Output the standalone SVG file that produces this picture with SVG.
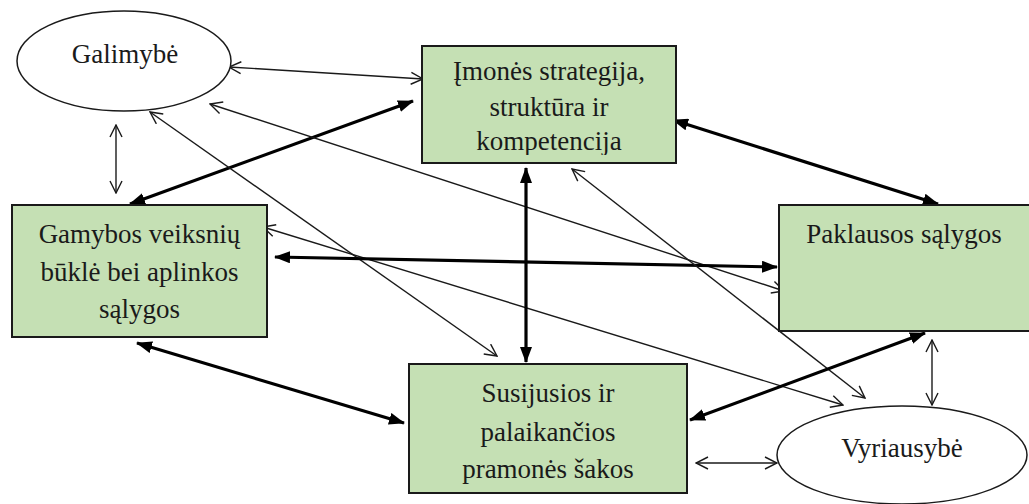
<svg xmlns="http://www.w3.org/2000/svg" width="1029" height="504" viewBox="0 0 1029 504">
<style>
.box{fill:#c5e0b4;stroke:#1a1a1a;stroke-width:2}
.ell{fill:#ffffff;stroke:#1a1a1a;stroke-width:1.5}
.lbl{font-family:"Liberation Serif","Times New Roman",serif;font-size:27px;fill:#1a1a1a;text-anchor:middle}
.thin{stroke:#1a1a1a;stroke-width:1.4;fill:none;marker-start:url(#open);marker-end:url(#open)}
.thick{stroke:#000;stroke-width:3.2;fill:none;marker-start:url(#solid);marker-end:url(#solid)}
</style>
<defs>
<marker id="open" markerUnits="userSpaceOnUse" viewBox="0 0 14 14" markerWidth="14" markerHeight="14" refX="13" refY="7" orient="auto-start-reverse">
<path d="M1,1 L13,7 L1,13" fill="none" stroke="#1a1a1a" stroke-width="1.4"/>
</marker>
<marker id="solid" markerUnits="userSpaceOnUse" viewBox="0 0 16 12" markerWidth="16" markerHeight="12" refX="15" refY="6" orient="auto-start-reverse">
<path d="M0,0 L16,6 L0,12 z" fill="#000"/>
</marker>
<clipPath id="clipA"><rect x="422" y="46" width="254" height="109"/></clipPath>
<clipPath id="clipB"><rect x="409" y="364" width="278" height="123"/></clipPath>
</defs>

<g id="connectors">
<line class="thin" x1="229" y1="67" x2="423" y2="79"/>
<line class="thin" x1="116" y1="125" x2="116" y2="193"/>
<line class="thick" x1="130" y1="204" x2="413" y2="101"/>
<line class="thin" x1="150" y1="112" x2="497" y2="356"/>
<line class="thin" x1="210" y1="104" x2="784" y2="291"/>
<line class="thin" x1="263" y1="227" x2="843" y2="405"/>
<line class="thick" x1="275" y1="257" x2="777" y2="267"/>
<line class="thick" x1="526" y1="168" x2="526" y2="362"/>
<line class="thin" x1="572" y1="169" x2="865" y2="398"/>
<line class="thick" x1="673" y1="120" x2="938" y2="204"/>
<line class="thick" x1="137" y1="343" x2="404" y2="423"/>
<line class="thick" x1="690" y1="420" x2="925" y2="333"/>
<line class="thin" x1="932" y1="340" x2="932" y2="405"/>
<line class="thin" x1="696" y1="463" x2="777" y2="463"/>
</g>

<g id="galimybe">
<ellipse class="ell" cx="124" cy="61" rx="107" ry="50"/>
<text class="lbl" x="125" y="63">Galimybė</text>
</g>

<g id="imones">
<rect class="box" x="422" y="46" width="254" height="117"/>
<g clip-path="url(#clipA)">
<text class="lbl" x="549" y="80">Įmonės strategija,</text>
<text class="lbl" x="549" y="116">struktūra ir</text>
<text class="lbl" x="549" y="150">kompetencija</text>
</g>
</g>

<g id="gamybos">
<rect class="box" x="12" y="205" width="255" height="132"/>
<text class="lbl" x="139.5" y="243">Gamybos veiksnių</text>
<text class="lbl" x="139.5" y="281">būklė bei aplinkos</text>
<text class="lbl" x="139.5" y="318">sąlygos</text>
</g>

<g id="paklausos">
<rect class="box" x="779" y="205" width="260" height="126"/>
<text class="lbl" x="904" y="243">Paklausos sąlygos</text>
</g>

<g id="susijusios">
<rect class="box" x="409" y="364" width="278" height="129"/>
<g clip-path="url(#clipB)">
<text class="lbl" x="548" y="402">Susijusios ir</text>
<text class="lbl" x="548" y="441">palaikančios</text>
<text class="lbl" x="548" y="478">pramonės šakos</text>
</g>
</g>

<g id="vyriausybe">
<ellipse class="ell" cx="902" cy="455" rx="125" ry="49"/>
<text class="lbl" x="902" y="457">Vyriausybė</text>
</g>
</svg>
